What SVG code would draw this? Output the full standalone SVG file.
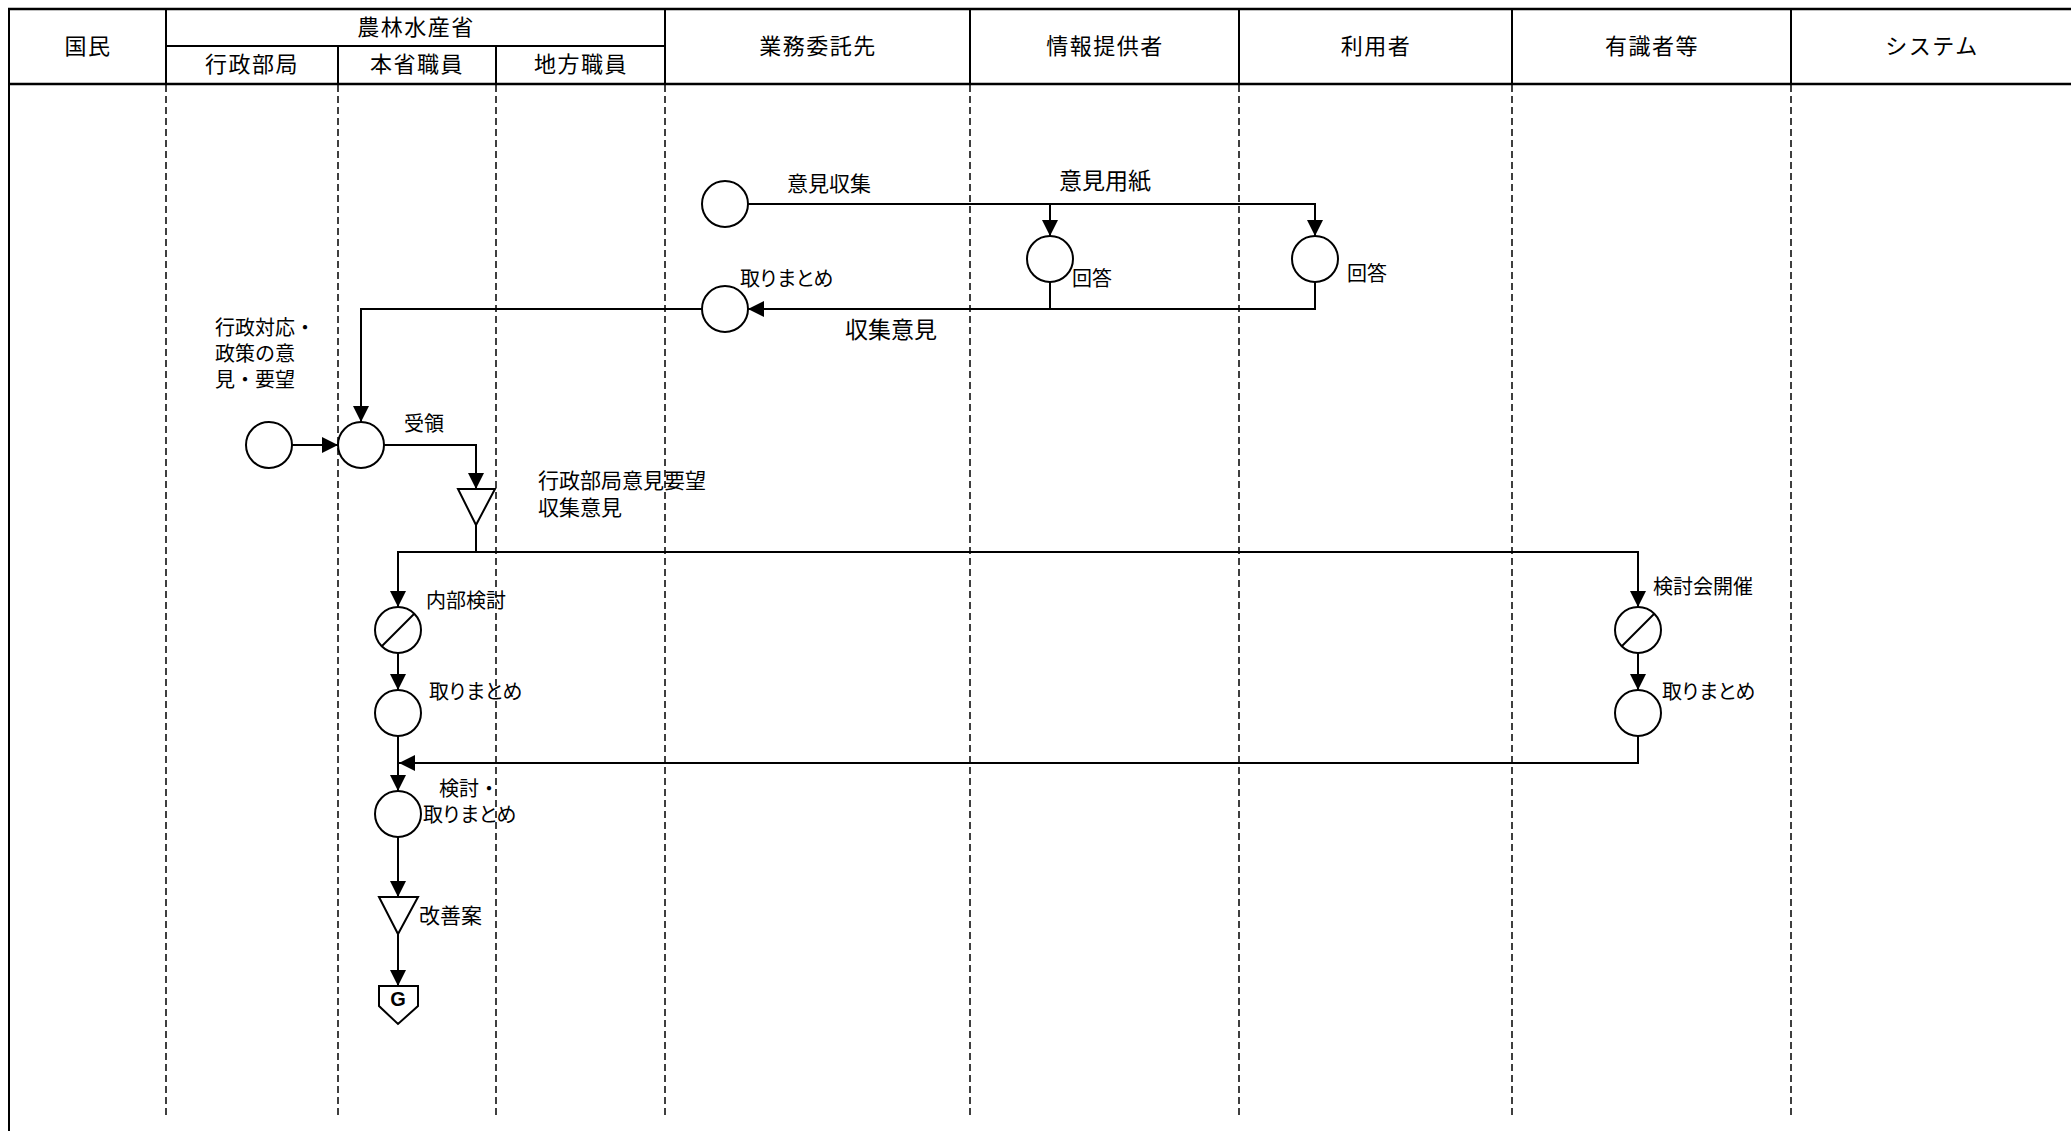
<svg xmlns="http://www.w3.org/2000/svg" width="2071" height="1131" viewBox="0 0 2071 1131">
<style>
text{font-family:"Noto Sans CJK JP","Noto Sans",sans-serif;fill:#000;dominant-baseline:central}
.hd{font-size:22px;letter-spacing:1.5px;text-anchor:middle}
.lb{font-size:20px}
.kn{font-size:20px;letter-spacing:-1.6px}
.big{font-size:23px}
.frame{stroke:#000;fill:none}
.lane{stroke:#000;stroke-width:1.5;stroke-dasharray:7 4;fill:none}
.node{fill:#fff;stroke:#000;stroke-width:2}
.slash{stroke:#000;stroke-width:2}
.conn{fill:none;stroke:#000;stroke-width:2}
.arr{fill:none;stroke:#000;stroke-width:2;marker-end:url(#ah)}
</style>
<defs>
<marker id="ah" markerUnits="userSpaceOnUse" markerWidth="17" markerHeight="16" refX="16" refY="8" orient="auto">
<path d="M0,0 L16,8 L0,16 z" fill="#000"/>
</marker>
</defs>
<rect width="2071" height="1131" fill="#fff"/>
<g id="header">
<line class="frame" x1="8" y1="9" x2="2071" y2="9" stroke-width="2.5"/>
<line class="frame" x1="9" y1="8" x2="9" y2="1131" stroke-width="2"/>
<line class="frame" x1="9" y1="84" x2="2071" y2="84" stroke-width="2.5"/>
<line class="frame" x1="166" y1="46" x2="665" y2="46" stroke-width="2"/>
<line class="frame" x1="166" y1="9" x2="166" y2="84" stroke-width="2"/>
<line class="frame" x1="338" y1="46" x2="338" y2="84" stroke-width="2"/>
<line class="frame" x1="496" y1="46" x2="496" y2="84" stroke-width="2"/>
<line class="frame" x1="665" y1="9" x2="665" y2="84" stroke-width="2"/>
<line class="frame" x1="970" y1="9" x2="970" y2="84" stroke-width="2"/>
<line class="frame" x1="1239" y1="9" x2="1239" y2="84" stroke-width="2"/>
<line class="frame" x1="1512" y1="9" x2="1512" y2="84" stroke-width="2"/>
<line class="frame" x1="1791" y1="9" x2="1791" y2="84" stroke-width="2"/>
<text class="hd" x="88" y="44">国民</text>
<text class="hd" x="416" y="25">農林水産省</text>
<text class="hd" x="252" y="62">行政部局</text>
<text class="hd" x="417" y="62">本省職員</text>
<text class="hd" x="581" y="62">地方職員</text>
<text class="hd" x="818" y="44">業務委託先</text>
<text class="hd" x="1105" y="44">情報提供者</text>
<text class="hd" x="1376" y="44">利用者</text>
<text class="hd" x="1652" y="44">有識者等</text>
<text class="hd" x="1932" y="44">システム</text>
</g>
<g id="lanes">
<line class="lane" x1="166" y1="85" x2="166" y2="1115"/>
<line class="lane" x1="338" y1="85" x2="338" y2="1115"/>
<line class="lane" x1="496" y1="85" x2="496" y2="1115"/>
<line class="lane" x1="665" y1="85" x2="665" y2="1115"/>
<line class="lane" x1="970" y1="85" x2="970" y2="1115"/>
<line class="lane" x1="1239" y1="85" x2="1239" y2="1115"/>
<line class="lane" x1="1512" y1="85" x2="1512" y2="1115"/>
<line class="lane" x1="1791" y1="85" x2="1791" y2="1115"/>
</g>
<g id="connectors">
<path class="arr" d="M748,204 H1315 V236"/>
<path class="arr" d="M1050,204 V236"/>
<path class="arr" d="M1315,282 V309 H748"/>
<path class="conn" d="M1050,282 V309"/>
<path class="arr" d="M702,309 H361 V422"/>
<path class="arr" d="M292,445 H338"/>
<path class="arr" d="M384,445 H476 V489"/>
<path class="conn" d="M476,525 V552"/>
<path class="arr" d="M476,552 H398 V607"/>
<path class="arr" d="M476,552 H1638 V607"/>
<path class="arr" d="M398,653 V690"/>
<path class="arr" d="M398,736 V791"/>
<path class="arr" d="M1638,653 V690"/>
<path class="arr" d="M1638,736 V763 H399"/>
<path class="arr" d="M398,837 V897"/>
<path class="arr" d="M398,934 V986"/>
<text class="lb" x="787" y="182" style="font-size:21px">意見収集</text>
<text class="big" x="1059" y="179">意見用紙</text>
<text class="big" x="845" y="328">収集意見</text>
</g>
<g id="n-collect">
<circle class="node" cx="725" cy="204" r="23"/>
</g>
<g id="n-answer1">
<circle class="node" cx="1050" cy="259" r="23"/>
<text class="lb" x="1072" y="277">回答</text>
</g>
<g id="n-answer2">
<circle class="node" cx="1315" cy="259" r="23"/>
<text class="lb" x="1347" y="272">回答</text>
</g>
<g id="n-summary1">
<circle class="node" cx="725" cy="309" r="23"/>
<text class="kn" x="740" y="277">取りまとめ</text>
</g>
<g id="n-citizen">
<circle class="node" cx="269" cy="445" r="23"/>
<text class="lb" x="215" y="326">行政対応・</text>
<text class="lb" x="215" y="352">政策の意</text>
<text class="lb" x="215" y="378">見・要望</text>
</g>
<g id="n-receive">
<circle class="node" cx="361" cy="445" r="23"/>
<text class="lb" x="404" y="422">受領</text>
</g>
<g id="n-store1">
<polygon class="node" points="458,489 495,489 476,525"/>
<text class="lb" x="538" y="479" style="font-size:21px">行政部局意見要望</text>
<text class="lb" x="538" y="506" style="font-size:21px">収集意見</text>
</g>
<g id="n-internal">
<circle class="node" cx="398" cy="630" r="23"/>
<line class="slash" x1="382" y1="646" x2="414" y2="614"/>
<text class="lb" x="426" y="599">内部検討</text>
</g>
<g id="n-summary2">
<circle class="node" cx="398" cy="713" r="23"/>
<text class="kn" x="429" y="690">取りまとめ</text>
</g>
<g id="n-review">
<circle class="node" cx="398" cy="814" r="23"/>
<text class="lb" x="469" y="787" style="text-anchor:middle">検討・</text>
<text class="kn" x="469" y="813" style="text-anchor:middle">取りまとめ</text>
</g>
<g id="n-store2">
<polygon class="node" points="379,897 418,897 398,934"/>
<text class="lb" x="419" y="914" style="font-size:21px">改善案</text>
</g>
<g id="n-goal">
<polygon class="node" points="379,986 418,986 418,1006 398,1024 379,1006"/>
<text x="398" y="999" style="font-family:'Liberation Sans',Arial,sans-serif;font-weight:bold;font-size:20px;text-anchor:middle">G</text>
</g>
<g id="n-meeting">
<circle class="node" cx="1638" cy="630" r="23"/>
<line class="slash" x1="1622" y1="646" x2="1654" y2="614"/>
<text class="lb" x="1653" y="585">検討会開催</text>
</g>
<g id="n-summary3">
<circle class="node" cx="1638" cy="713" r="23"/>
<text class="kn" x="1662" y="690">取りまとめ</text>
</g>
</svg>
